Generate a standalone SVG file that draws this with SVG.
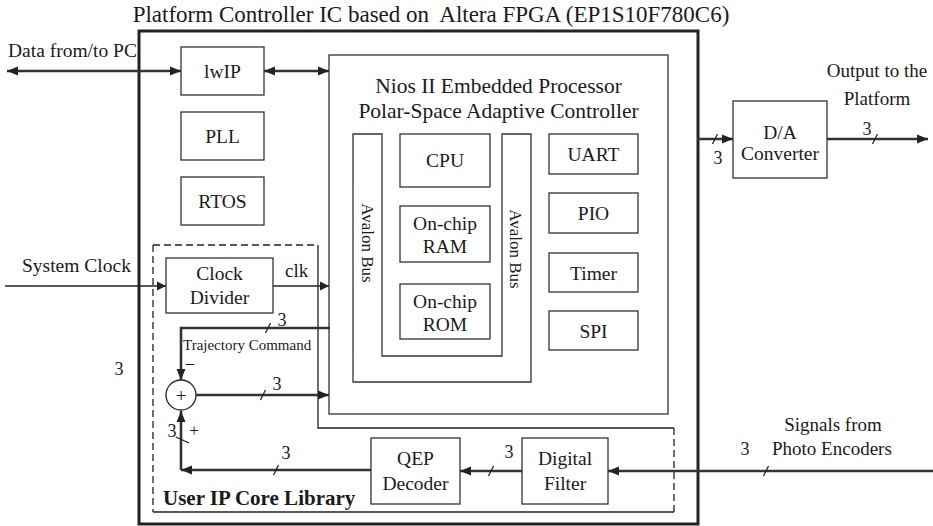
<svg xmlns="http://www.w3.org/2000/svg" width="933" height="526" viewBox="0 0 933 526">
<style>
text{font-family:"Liberation Serif","Times New Roman",serif;fill:#1a1a1a}
.lbl{font-size:19.5px;text-anchor:middle}
.n{font-size:18px;text-anchor:middle}
.box{fill:#fff;stroke:#333;stroke-width:1.3}
.thick{fill:none;stroke:#333;stroke-width:2.6}
.thin{fill:none;stroke:#222;stroke-width:1.5}
.tick{fill:none;stroke:#222;stroke-width:1.3}
.dash{fill:none;stroke:#222;stroke-width:1.3;stroke-dasharray:7,4}
.solid{fill:none;stroke:#222;stroke-width:1.3}
</style>
<defs>
<marker id="ah" markerUnits="userSpaceOnUse" markerWidth="12" markerHeight="10" refX="11" refY="5" orient="auto-start-reverse">
<path d="M0,0.5 L11,5 L0,9.5 z" fill="#222"/>
</marker>
<marker id="ahs" markerUnits="userSpaceOnUse" markerWidth="10" markerHeight="10" refX="9" refY="5" orient="auto-start-reverse">
<path d="M0,0.5 L9,5 L0,9.5 z" fill="#222"/>
</marker>
</defs>
<rect width="933" height="526" fill="#fff"/>

<text x="431" y="22" style="font-size:23px;text-anchor:middle">Platform Controller IC based on&#160; Altera FPGA (EP1S10F780C6)</text>

<g id="fpga">
<rect x="139" y="31" width="559" height="493" fill="none" stroke="#222" stroke-width="3"/>
</g>

<g id="user-ip-region">
<path class="dash" d="M153,245 H318 M153,245 V512 M674,428 V512"/>
<path class="solid" d="M318,245 V428 H674 M153,512 H674"/>
<text x="163" y="505" style="font-size:21px;font-weight:bold">User IP Core Library</text>
</g>

<g id="lwip"><rect class="box" x="181" y="47" width="83" height="48"/><text class="lbl" x="222.5" y="78">lwIP</text></g>
<g id="pll"><rect class="box" x="181" y="112" width="83" height="48"/><text class="lbl" x="222.5" y="143">PLL</text></g>
<g id="rtos"><rect class="box" x="181" y="177" width="83" height="48"/><text class="lbl" x="222.5" y="208">RTOS</text></g>

<g id="nios">
<rect class="box" x="329" y="55" width="339" height="359"/>
<text x="498.5" y="93" style="font-size:21.5px;text-anchor:middle">Nios II Embedded Processor</text>
<text x="498.5" y="118" style="font-size:21.5px;text-anchor:middle">Polar-Space Adaptive Controller</text>
</g>
<g id="avalon-bus">
<path class="box" d="M353,134 H382 V356 H502 V134 H531 V382 H353 Z"/>
<text transform="translate(362,243) rotate(90)" style="font-size:17px;text-anchor:middle">Avalon Bus</text>
<text transform="translate(510,249) rotate(90)" style="font-size:17px;text-anchor:middle">Avalon Bus</text>
</g>
<g id="cpu"><rect class="box" x="400" y="134" width="90" height="53"/><text class="lbl" x="445" y="167">CPU</text></g>
<g id="ram"><rect class="box" x="400" y="206" width="90" height="56"/><text class="lbl" x="445" y="230">On-chip</text><text class="lbl" x="445" y="253">RAM</text></g>
<g id="rom"><rect class="box" x="400" y="284" width="90" height="55"/><text class="lbl" x="445" y="308">On-chip</text><text class="lbl" x="445" y="331">ROM</text></g>
<g id="uart"><rect class="box" x="549" y="134" width="89" height="40"/><text class="lbl" x="593.5" y="161">UART</text></g>
<g id="pio"><rect class="box" x="549" y="193" width="89" height="40"/><text class="lbl" x="593.5" y="220">PIO</text></g>
<g id="timer"><rect class="box" x="549" y="253" width="89" height="39"/><text class="lbl" x="593.5" y="280">Timer</text></g>
<g id="spi"><rect class="box" x="549" y="311" width="89" height="39"/><text class="lbl" x="593.5" y="338">SPI</text></g>

<g id="clock-divider"><rect class="box" x="166" y="258" width="107" height="55"/><text class="lbl" x="219.5" y="280">Clock</text><text class="lbl" x="219.5" y="304">Divider</text></g>
<g id="sum"><circle cx="181" cy="395" r="15" fill="#fff" stroke="#222" stroke-width="1.3"/><text x="181" y="401.5" style="font-size:19px;text-anchor:middle">+</text></g>
<g id="qep"><rect class="box" x="371" y="438" width="89" height="66"/><text class="lbl" x="415.5" y="465">QEP</text><text class="lbl" x="415.5" y="490">Decoder</text></g>
<g id="digital-filter"><rect class="box" x="522" y="438" width="86" height="66"/><text class="lbl" x="565" y="465">Digital</text><text class="lbl" x="565" y="490">Filter</text></g>
<g id="da"><rect class="box" x="733" y="101" width="94" height="77"/><text class="lbl" x="780" y="139">D/A</text><text class="lbl" x="780" y="160">Converter</text></g>

<g id="connectors">
<path class="thick" d="M7,71 H181" marker-start="url(#ah)" marker-end="url(#ah)"/>
<path class="thick" d="M264,71 H329" marker-start="url(#ah)" marker-end="url(#ah)"/>
<path class="thin" d="M5,286 H166" marker-end="url(#ahs)"/>
<path class="thin" d="M273,286 H329" marker-end="url(#ahs)"/>
<path class="thick" d="M330,328 H181 V380" marker-end="url(#ah)"/>
<path class="thick" d="M196,395 H329" marker-end="url(#ah)"/>
<path class="thick" d="M371,470 H181" marker-end="url(#ah)"/>
<path class="thick" d="M181,470 V411" marker-end="url(#ah)"/>
<path class="thick" d="M522,471 H460" marker-end="url(#ah)"/>
<path class="thick" d="M933,471 H608" marker-end="url(#ah)"/>
<path class="thick" d="M697,139 H733" marker-end="url(#ah)"/>
<path class="thick" d="M827,139 H928" marker-end="url(#ah)"/>
<path class="tick" d="M265.5,333 L270.5,323 M260.5,400 L265.5,390 M176,437 L189,443 M273.5,475 L278.5,465 M488.5,476 L493.5,466 M763.5,476 L768.5,466 M712.5,144 L717.5,134 M872.5,144 L877.5,134"/>
</g>

<g id="labels">
<text x="8" y="57" style="font-size:19.5px">Data from/to PC</text>
<text x="22" y="272" style="font-size:19.5px">System Clock</text>
<text x="285" y="277" style="font-size:19px">clk</text>
<text x="183" y="350" style="font-size:15px">Trajectory Command</text>
<text x="190" y="368" style="font-size:17px;text-anchor:middle">–</text>
<text x="194" y="436" style="font-size:17px;text-anchor:middle">+</text>
<text x="877" y="77" style="font-size:19px;text-anchor:middle">Output to the</text>
<text x="877" y="105" style="font-size:19px;text-anchor:middle">Platform</text>
<text x="833" y="431" style="font-size:19px;text-anchor:middle">Signals from</text>
<text x="772" y="455" style="font-size:19px">Photo Encoders</text>
<text class="n" x="282" y="326">3</text>
<text class="n" x="277" y="390">3</text>
<text class="n" x="172" y="437">3</text>
<text class="n" x="286" y="459">3</text>
<text class="n" x="509" y="458">3</text>
<text class="n" x="745" y="455">3</text>
<text class="n" x="718" y="164">3</text>
<text class="n" x="867" y="135">3</text>
<text class="n" x="119" y="375">3</text>
</g>
</svg>
